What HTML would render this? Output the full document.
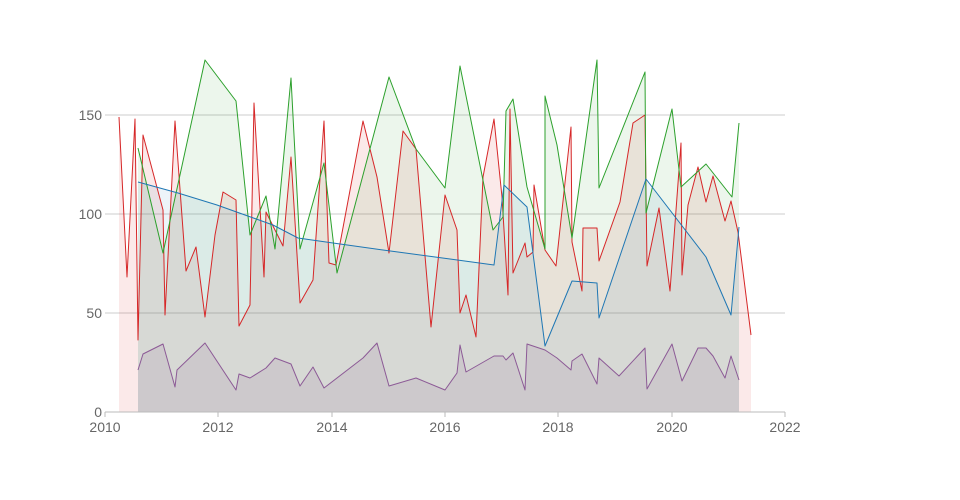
<!DOCTYPE html>
<html><head><meta charset="utf-8"><style>
html,body{margin:0;padding:0;background:#fff;}
svg{display:block;font-family:"Liberation Sans",sans-serif;}
</style></head><body>
<svg width="960" height="500" viewBox="0 0 960 500">
<g stroke="#ccc" stroke-width="1">
<line x1="105" y1="115" x2="785" y2="115"/>
<line x1="105" y1="214" x2="785" y2="214"/>
<line x1="105" y1="313" x2="785" y2="313"/>
</g>
<polygon fill="rgba(214,39,40,0.1)" points="119,412 119,117 127,277 135,119 138,340 143,135 163,210 165,315 175,121 186,271 196,247 205,317 215,235 223,192 236,200 239,326 250,305 254,103 264,277 266,212 283,246 291,157 300,303 313,280 324,121 329,263 336,265 363,121 377,177 389,253 403,131 416,149 431,327 445,195 457,230 460,313 466,295 476,337 483,177 494,119 502,197 508,295 510,109 513,273 525,243 527,257 533,252 534,185 545,250 556,266 571,127 572,242 582,291 583,228 597,228 599,261 620,202 633,123 645,115 647,266 659,208 670,291 681,143 682,275 688,205 698,167 706,202 713,176 725,221 731,201 738,232 751,335 751,412"/>
<polygon fill="rgba(44,160,44,0.09)" points="138,412 138,148 163,253 205,60 236,101 250,235 266,196 275,249 291,78 300,249 324,163 337,273 389,77 416,149 445,188 460,66 493,230 503,217 506,111 513,99 527,187 545,249 545,96 557,145 572,238 597,60 599,188 645,72 646,213 672,109 681,187 706,164 732,197 739,123 739,412"/>
<polygon fill="rgba(31,119,180,0.08)" points="138,412 138,182 178,193 217,205 273,225 298,238 333,243 383,250 450,259 494,265 504,185 527,207 545,346 572,281 597,283 599,318 646,179 706,257 731,315 739,227 739,412"/>
<polygon fill="rgba(148,103,150,0.14)" points="138,412 138,370 143,354 163,344 175,387 177,370 205,343 236,390 239,374 250,378 266,368 275,358 291,364 300,386 313,367 324,388 363,358 377,343 389,386 416,378 445,390 457,373 460,345 466,372 494,356 503,356 506,360 513,353 525,390 527,344 545,350 557,358 571,370 572,361 582,354 597,384 599,358 619,376 645,348 647,389 672,344 682,381 698,348 706,348 713,356 725,378 731,356 739,380 739,412"/>
<g fill="none" stroke-width="1" stroke-linejoin="round">
<polyline stroke="#d62728" points="119,117 127,277 135,119 138,340 143,135 163,210 165,315 175,121 186,271 196,247 205,317 215,235 223,192 236,200 239,326 250,305 254,103 264,277 266,212 283,246 291,157 300,303 313,280 324,121 329,263 336,265 363,121 377,177 389,253 403,131 416,149 431,327 445,195 457,230 460,313 466,295 476,337 483,177 494,119 502,197 508,295 510,109 513,273 525,243 527,257 533,252 534,185 545,250 556,266 571,127 572,242 582,291 583,228 597,228 599,261 620,202 633,123 645,115 647,266 659,208 670,291 681,143 682,275 688,205 698,167 706,202 713,176 725,221 731,201 738,232 751,335"/>
<polyline stroke="#2ca02c" points="138,148 163,253 205,60 236,101 250,235 266,196 275,249 291,78 300,249 324,163 337,273 389,77 416,149 445,188 460,66 493,230 503,217 506,111 513,99 527,187 545,249 545,96 557,145 572,238 597,60 599,188 645,72 646,213 672,109 681,187 706,164 732,197 739,123"/>
<polyline stroke="#1f77b4" points="138,182 178,193 217,205 273,225 298,238 333,243 383,250 450,259 494,265 504,185 527,207 545,346 572,281 597,283 599,318 646,179 706,257 731,315 739,227"/>
<polyline stroke="#8c5a96" points="138,370 143,354 163,344 175,387 177,370 205,343 236,390 239,374 250,378 266,368 275,358 291,364 300,386 313,367 324,388 363,358 377,343 389,386 416,378 445,390 457,373 460,345 466,372 494,356 503,356 506,360 513,353 525,390 527,344 545,350 557,358 571,370 572,361 582,354 597,384 599,358 619,376 645,348 647,389 672,344 682,381 698,348 706,348 713,356 725,378 731,356 739,380"/>
</g>
<g stroke="#bbb" stroke-width="1">
<line x1="105" y1="412" x2="785" y2="412"/>
<line x1="105" y1="412" x2="105" y2="417"/>
<line x1="218" y1="412" x2="218" y2="417"/>
<line x1="332" y1="412" x2="332" y2="417"/>
<line x1="445" y1="412" x2="445" y2="417"/>
<line x1="558" y1="412" x2="558" y2="417"/>
<line x1="672" y1="412" x2="672" y2="417"/>
<line x1="785" y1="412" x2="785" y2="417"/>
</g>
<g fill="#666" font-size="14" text-anchor="middle">
<text x="105" y="432">2010</text>
<text x="218" y="432">2012</text>
<text x="332" y="432">2014</text>
<text x="445" y="432">2016</text>
<text x="558" y="432">2018</text>
<text x="672" y="432">2020</text>
<text x="785" y="432">2022</text>
</g>
<g fill="#666" font-size="14" text-anchor="end">
<text x="102" y="417">0</text>
<text x="102" y="318">50</text>
<text x="102" y="219">100</text>
<text x="102" y="120">150</text>
</g>
</svg>
</body></html>
